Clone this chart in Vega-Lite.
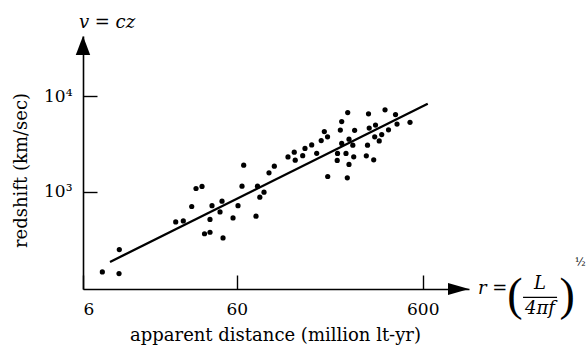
{
  "$schema": "https://vega.github.io/schema/vega-lite/v6.json",
  "width": 386,
  "height": 253,
  "autosize": {"type": "none"},
  "padding": {"left": 83, "top": 36, "right": 117, "bottom": 63},
  "background": "white",
  "config": {
    "view": {"stroke": null},
    "font": "DejaVu Serif",
    "axis": {
      "domainColor": "black", "domainWidth": 1.6,
      "tickColor": "black", "tickWidth": 1.4, "tickSize": -14,
      "grid": false,
      "labelFont": "DejaVu Serif", "labelFontSize": 17, "labelColor": "black",
      "titleFont": "DejaVu Serif", "titleFontSize": 18, "titleFontWeight": "normal", "titleColor": "black"
    }
  },
  "datasets": {
    "galaxies": [
      {"d": 11.37, "v": 145.9}, {"d": 13.98, "v": 140.4}, {"d": 14.03, "v": 250.2},
      {"d": 28.2, "v": 485.9}, {"d": 30.98, "v": 497.7}, {"d": 34.38, "v": 703.9},
      {"d": 36.26, "v": 1085}, {"d": 39.05, "v": 1139}, {"d": 40.28, "v": 365.8},
      {"d": 43.11, "v": 379.2}, {"d": 43.11, "v": 516}, {"d": 44.19, "v": 717.6},
      {"d": 48.8, "v": 618.1}, {"d": 50.03, "v": 799.6}, {"d": 50.65, "v": 330.6},
      {"d": 57.32, "v": 535}, {"d": 60.98, "v": 717.6}, {"d": 64.07, "v": 1147},
      {"d": 65.43, "v": 1901}, {"d": 76.19, "v": 557.3}, {"d": 77.62, "v": 1147},
      {"d": 79.87, "v": 880.4}, {"d": 84.13, "v": 992.8}, {"d": 89.47, "v": 1579},
      {"d": 95.56, "v": 1856}, {"d": 113.2, "v": 2316}, {"d": 122.3, "v": 2599},
      {"d": 123.8, "v": 2144}, {"d": 135.8, "v": 2389}, {"d": 139.7, "v": 2841},
      {"d": 151.8, "v": 3091}, {"d": 161.5, "v": 2525}, {"d": 170.8, "v": 3428},
      {"d": 177.5, "v": 4257}, {"d": 184.7, "v": 3756}, {"d": 185.1, "v": 1448},
      {"d": 209.0, "v": 2519}, {"d": 208.2, "v": 2129}, {"d": 216.4, "v": 4413},
      {"d": 220.1, "v": 5414}, {"d": 220.1, "v": 3204}, {"d": 232.1, "v": 2519},
      {"d": 237.1, "v": 6723}, {"d": 235.9, "v": 1401}, {"d": 240.9, "v": 3553},
      {"d": 252.5, "v": 3075}, {"d": 240.9, "v": 1933}, {"d": 255.4, "v": 2321},
      {"d": 258.3, "v": 4392}, {"d": 298.5, "v": 2378}, {"d": 303.0, "v": 3075},
      {"d": 306.7, "v": 6532}, {"d": 309.4, "v": 4630}, {"d": 327.1, "v": 2160},
      {"d": 331.2, "v": 3756}, {"d": 334.5, "v": 4977}, {"d": 350.2, "v": 3403},
      {"d": 361.2, "v": 3961}, {"d": 376.3, "v": 7193}, {"d": 392.9, "v": 4445},
      {"d": 428.5, "v": 6408}, {"d": 436.5, "v": 5098}, {"d": 512.7, "v": 5323}
    ],
    "fit": [{"d": 12.5, "v": 185.6}, {"d": 638.4, "v": 8308}]
  },
  "layer": [
    {
      "data": {"name": "galaxies"},
      "mark": {"type": "circle", "size": 27, "color": "black", "opacity": 1},
      "encoding": {
        "x": {
          "field": "d", "type": "quantitative",
          "scale": {"type": "log", "domain": [8.95, 1064], "nice": false},
          "axis": {
            "title": "apparent distance (million lt-yr)",
            "values": [8.95, 60, 600],
            "labelExpr": "datum.value < 10 ? '6' : (datum.value < 100 ? '60' : '600')",
            "labelPadding": 26,
            "titleX": 192, "titleY": 46, "titleBaseline": "middle", "titleAlign": "center"
          }
        },
        "y": {
          "field": "v", "type": "quantitative",
          "scale": {"type": "log", "domain": [96.9, 42364], "nice": false},
          "axis": {
            "title": "redshift (km/sec)",
            "values": [1000, 10000],
            "labelExpr": "datum.value < 5000 ? '10³' : '10⁴'",
            "labelPadding": 25,
            "titleX": -62, "titleY": 134, "titleBaseline": "middle", "titleAlign": "center"
          }
        }
      }
    },
    {
      "data": {"name": "fit"},
      "mark": {"type": "line", "color": "black", "strokeWidth": 2.3},
      "encoding": {
        "x": {"field": "d", "type": "quantitative"},
        "y": {"field": "v", "type": "quantitative"}
      }
    },
    {
      "data": {"values": [{"k": "yarrow"}]},
      "mark": {"type": "point", "shape": "M0,0L-0.38,1L0.38,1Z", "size": 1444, "filled": true, "color": "black", "opacity": 1, "strokeWidth": 0},
      "encoding": {
        "x": {"datum": 8.95, "type": "quantitative"},
        "y": {"datum": 42364, "type": "quantitative"}
      }
    },
    {
      "data": {"values": [{"k": "xarrow"}]},
      "mark": {"type": "point", "shape": "M0,0L-1,-0.29L-1,0.29Z", "size": 1764, "filled": true, "color": "black", "opacity": 1, "strokeWidth": 0},
      "encoding": {
        "x": {"datum": 1064, "type": "quantitative"},
        "y": {"datum": 96.9, "type": "quantitative"}
      }
    },
    {
      "data": {"values": [{"label": "v = cz"}]},
      "mark": {"type": "text", "font": "DejaVu Serif", "fontStyle": "italic", "fontSize": 18, "align": "center", "baseline": "middle", "color": "black"},
      "encoding": {
        "x": {"datum": 12.05, "type": "quantitative"},
        "y": {"datum": 58000, "type": "quantitative"},
        "text": {"field": "label"}
      }
    },
    {
      "data": {"values": [{"label": "r ="}]},
      "mark": {"type": "text", "font": "DejaVu Serif", "fontStyle": "italic", "fontSize": 18, "align": "left", "baseline": "middle", "color": "black"},
      "encoding": {
        "x": {"datum": 1190, "type": "quantitative"},
        "y": {"datum": 96.2, "type": "quantitative"},
        "text": {"field": "label"}
      }
    },
    {
      "data": {"values": [{"label": "("}]},
      "mark": {"type": "text", "font": "Liberation Serif", "fontSize": 46, "align": "center", "baseline": "middle", "color": "black"},
      "encoding": {
        "x": {"datum": 1880, "type": "quantitative"},
        "y": {"datum": 81.3, "type": "quantitative"},
        "text": {"field": "label"}
      }
    },
    {
      "data": {"values": [{"label": ")"}]},
      "mark": {"type": "text", "font": "Liberation Serif", "fontSize": 46, "align": "center", "baseline": "middle", "color": "black"},
      "encoding": {
        "x": {"datum": 3581, "type": "quantitative"},
        "y": {"datum": 81.3, "type": "quantitative"},
        "text": {"field": "label"}
      }
    },
    {
      "data": {"values": [{"label": "L"}]},
      "mark": {"type": "text", "font": "DejaVu Serif", "fontStyle": "italic", "fontSize": 18, "align": "center", "baseline": "middle", "color": "black"},
      "encoding": {
        "x": {"datum": 2563, "type": "quantitative"},
        "y": {"datum": 108.5, "type": "quantitative"},
        "text": {"field": "label"}
      }
    },
    {
      "data": {"values": [{"label": "4πf"}]},
      "mark": {"type": "text", "font": "DejaVu Serif", "fontStyle": "italic", "fontSize": 18, "align": "center", "baseline": "middle", "color": "black"},
      "encoding": {
        "x": {"datum": 2563, "type": "quantitative"},
        "y": {"datum": 59.5, "type": "quantitative"},
        "text": {"field": "label"}
      }
    },
    {
      "data": {"values": [{"k": "bar"}]},
      "mark": {"type": "rule", "color": "black", "strokeWidth": 1.3},
      "encoding": {
        "x": {"datum": 2077, "type": "quantitative"},
        "x2": {"datum": 3164},
        "y": {"datum": 79.4, "type": "quantitative"}
      }
    },
    {
      "data": {"values": [{"label": "½"}]},
      "mark": {"type": "text", "font": "DejaVu Serif", "fontSize": 11, "align": "left", "baseline": "middle", "color": "black"},
      "encoding": {
        "x": {"datum": 3954, "type": "quantitative"},
        "y": {"datum": 179.8, "type": "quantitative"},
        "text": {"field": "label"}
      }
    }
  ]
}
